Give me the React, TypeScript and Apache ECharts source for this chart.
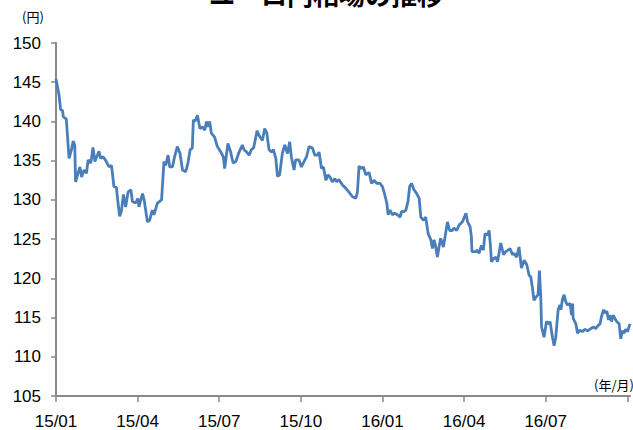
import React, { useEffect, useRef } from "react";
import * as echarts from "echarts";

// x: months elapsed since 2015/01 (fractional), y: EUR/JPY rate (円)
const months = [
  0.0, 0.11, 0.17, 0.24, 0.27, 0.38, 0.48, 0.57, 0.63, 0.69, 0.72, 0.81, 0.88, 0.94,
  1.03, 1.12, 1.18, 1.28, 1.36, 1.43, 1.58, 1.64, 1.73, 1.83, 1.95, 2.04, 2.13, 2.22,
  2.28, 2.34, 2.4, 2.48, 2.56, 2.65, 2.75, 2.81, 2.93, 3.01, 3.05, 3.18, 3.24, 3.36,
  3.44, 3.54, 3.6, 3.73, 3.88, 3.97, 4.03, 4.12, 4.18, 4.28, 4.36, 4.46, 4.56, 4.65,
  4.77, 4.85, 4.93, 5.01, 5.05, 5.11, 5.2, 5.29, 5.38, 5.47, 5.53, 5.59, 5.65, 5.71,
  5.83, 5.93, 6.06, 6.15, 6.2, 6.32, 6.42, 6.51, 6.61, 6.73, 6.85, 6.91, 7.01, 7.1,
  7.18, 7.26, 7.31, 7.39, 7.5, 7.59, 7.67, 7.75, 7.83, 7.92, 7.99, 8.08, 8.14, 8.22,
  8.32, 8.41, 8.51, 8.59, 8.65, 8.75, 8.81, 8.93, 9.02, 9.12, 9.21, 9.3, 9.43, 9.51,
  9.61, 9.67, 9.76, 9.83, 9.92, 10.0, 10.07, 10.16, 10.25, 10.32, 10.4, 10.53, 10.65,
  10.77, 10.9, 11.02, 11.08, 11.14, 11.23, 11.3, 11.39, 11.51, 11.6, 11.69, 11.79,
  11.91, 12.0, 12.06, 12.16, 12.21, 12.28, 12.37, 12.45, 12.55, 12.65, 12.7, 12.79,
  12.86, 12.94, 13.0, 13.07, 13.16, 13.26, 13.35, 13.41, 13.51, 13.59, 13.68, 13.78,
  13.84, 13.9, 13.96, 14.02, 14.08, 14.14, 14.24, 14.33, 14.39, 14.47, 14.57, 14.63,
  14.73, 14.82, 14.94, 15.07, 15.13, 15.22, 15.27, 15.29, 15.43, 15.49, 15.55, 15.64,
  15.71, 15.77, 15.86, 15.92, 15.96, 16.01, 16.08, 16.17, 16.23, 16.35, 16.45, 16.53,
  16.62, 16.69, 16.78, 16.84, 16.93, 17.02, 17.11, 17.21, 17.31, 17.39, 17.45, 17.51,
  17.57, 17.64, 17.72, 17.77, 17.82, 17.85, 17.94, 18.03, 18.13, 18.16, 18.25, 18.31,
  18.37, 18.46, 18.52, 18.56, 18.62, 18.68, 18.74, 18.8, 18.9, 18.95, 18.99, 19.01,
  19.11, 19.17, 19.26, 19.35, 19.44, 19.54, 19.66, 19.76, 19.84, 19.93, 20.0, 20.05,
  20.13, 20.18, 20.25, 20.31, 20.37, 20.42, 20.49, 20.54, 20.61, 20.7, 20.76, 20.82,
  20.88, 20.94, 21.01, 21.1,
];

const rates = [
  145.4, 143.4, 141.5, 141.4, 140.6, 140.3, 135.3, 136.4, 137.5, 137.0, 132.3, 133.4, 134.2, 132.9,
  133.8, 133.4, 135.1, 134.7, 136.7, 134.9, 136.2, 135.3, 135.5, 135.0, 134.2, 134.4, 131.7, 131.6,
  129.6, 127.9, 128.5, 130.7, 129.1, 131.0, 131.3, 129.8, 129.6, 130.2, 129.1, 130.8, 130.0, 127.2,
  127.4, 128.7, 128.1, 129.6, 130.0, 134.9, 134.4, 135.7, 134.2, 134.2, 135.5, 136.8, 135.9, 133.8,
  133.6, 134.7, 136.4, 136.6, 140.2, 140.0, 140.8, 139.1, 139.3, 138.9, 140.0, 139.3, 140.0, 138.5,
  138.0, 136.8, 136.1, 135.5, 134.0, 137.2, 136.1, 134.7, 134.9, 136.1, 137.0, 136.4, 136.1, 135.7,
  136.4, 136.6, 137.4, 138.8, 138.0, 137.6, 139.1, 138.5, 136.4, 136.1, 136.4, 135.3, 133.0, 133.2,
  135.9, 137.0, 135.9, 137.4, 135.5, 133.8, 135.1, 135.1, 134.2, 134.9, 135.5, 136.8, 136.6, 135.7,
  135.7, 136.1, 134.0, 134.2, 132.5, 133.2, 132.9, 132.3, 132.7, 132.3, 132.6, 131.9, 131.5,
  131.0, 130.4, 130.2, 131.0, 134.3, 134.0, 134.2, 133.2, 133.5, 132.1, 132.5, 132.1,
  132.1, 131.7, 131.0, 129.6, 128.1, 128.7, 128.1, 128.3, 128.1, 127.8, 128.5, 128.5,
  128.7, 129.8, 131.7, 132.1, 131.3, 130.8, 130.2, 127.8, 127.4, 127.8, 125.7, 124.9,
  123.8, 124.9, 124.0, 122.7, 124.0, 125.1, 124.0, 125.9, 127.2, 126.1, 126.1, 126.4,
  126.1, 126.8, 127.2, 128.3, 127.2, 126.6, 125.3, 123.4, 123.4, 123.6, 123.2, 124.2,
  123.6, 125.7, 125.5, 126.1, 124.6, 122.1, 122.5, 122.7, 122.1, 124.5, 123.0, 123.4,
  123.6, 123.8, 123.0, 123.2, 122.7, 124.0, 121.3, 122.3, 121.7, 120.4, 120.2, 118.9,
  117.2, 117.6, 117.9, 121.0, 117.6, 113.8, 112.5, 114.5, 114.2, 114.5, 112.5, 111.4,
  112.5, 116.0, 116.6, 116.0, 117.4, 117.9, 117.0, 116.6, 116.8, 115.3, 116.8, 114.9,
  114.2, 113.0, 113.4, 113.2, 113.5, 113.3, 113.6, 113.8, 113.6, 114.0, 114.2, 115.1,
  116.0, 115.6, 115.8, 114.7, 115.3, 114.5, 115.3, 114.9, 114.5, 114.2, 112.3, 113.3,
  113.0, 113.5, 113.2, 114.2,
];

const tickMonths = [0, 3, 6, 9, 12, 15, 18, 21];
const tickLabels = ["15/01", "15/04", "15/07", "15/10", "16/01", "16/04", "16/07"];
const titleText = "ユーロ円相場の推移";

export default function App() {
  const ref = useRef<HTMLDivElement>(null);
  useEffect(() => {
    if (!ref.current) return;
    const chart = echarts.init(ref.current, null, { renderer: "svg" });
    const data = months.map((m, i) => [m, rates[i]]);
    const axisColor = "#898989";
    const font = "'Liberation Sans', 'Noto Sans CJK JP', sans-serif";
    chart.setOption({
      animation: false,
      backgroundColor: "#ffffff",
      grid: {
        left: 56,
        right: 3,
        top: 43,
        bottom: 34,
        containLabel: false,
        outerBoundsMode: "none",
      },
      graphic: [
        {
          type: "text",
          x: 326,
          y: 6,
          style: {
            text: titleText,
            fontSize: 26,
            fontWeight: "bold",
            fontFamily: "'Noto Sans CJK JP', sans-serif",
            fill: "#000",
            align: "center",
            verticalAlign: "bottom",
          },
        },
        {
          type: "text",
          x: 33,
          y: 16,
          style: {
            text: "(円)",
            fontSize: 13,
            fontFamily: "'Noto Sans CJK JP', sans-serif",
            fill: "#000",
            align: "center",
            verticalAlign: "middle",
          },
        },
        {
          type: "text",
          x: 634,
          y: 384,
          style: {
            text: "(年/月)",
            fontSize: 13,
            fontFamily: "'Noto Sans CJK JP', sans-serif",
            fill: "#000",
            align: "right",
            verticalAlign: "middle",
          },
        },
      ],
      xAxis: {
        type: "value",
        min: 0,
        max: 21.1,
        interval: 3,
        splitLine: { show: false },
        axisLine: { show: true, onZero: false, lineStyle: { color: axisColor, width: 2 } },
        axisTick: {
          show: true,
          length: 6,
          customValues: tickMonths,
          lineStyle: { color: axisColor, width: 1.5 },
        },
        axisLabel: {
          customValues: tickMonths.slice(0, tickLabels.length),
          formatter: (v: number) => tickLabels[Math.round(v / 3)] ?? "",
          fontSize: 17,
          fontFamily: font,
          color: "#000",
          margin: 17,
        },
      },
      yAxis: {
        type: "value",
        min: 105,
        max: 150,
        interval: 5,
        splitLine: { show: false },
        axisLine: { show: true, lineStyle: { color: axisColor, width: 2 } },
        axisTick: { show: true, length: 5, lineStyle: { color: axisColor, width: 1.5 } },
        axisLabel: { fontSize: 17, fontFamily: font, color: "#000", margin: 15 },
      },
      series: [
        {
          type: "line",
          data,
          showSymbol: false,
          symbol: "none",
          smooth: false,
          lineStyle: { color: "#4a7ebb", width: 2.8 },
          clip: false,
        },
      ],
    });
    return () => chart.dispose();
  }, []);
  return (
    <div
      ref={ref}
      style={{ position: "fixed", left: 0, top: 0, width: 633, height: 430, background: "#fff" }}
    />
  );
}
